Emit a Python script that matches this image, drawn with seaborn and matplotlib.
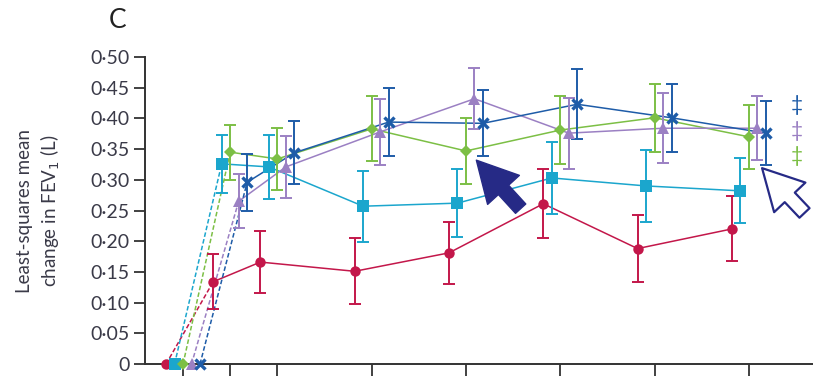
import numpy as np
import pandas as pd
import matplotlib
matplotlib.use("Agg")
import matplotlib.pyplot as plt
import seaborn as sns

# Time after dose (h) and least-squares mean change in FEV1 (L) with 95% CI half-widths
hours = [0, 0.5, 1, 2, 3, 4, 5, 6]

red_mean = [0.0, 0.134, 0.166, 0.151, 0.181, 0.261, 0.188, 0.220]
red_err = [0.0, 0.045, 0.051, 0.054, 0.051, 0.056, 0.055, 0.053]

cyan_mean = [0.0, 0.326, 0.321, 0.257, 0.262, 0.303, 0.290, 0.282]
cyan_err = [0.0, 0.047, 0.052, 0.058, 0.055, 0.058, 0.058, 0.053]

green_mean = [0.0, 0.345, 0.334, 0.383, 0.347, 0.381, 0.401, 0.370]
green_err = [0.0, 0.045, 0.050, 0.053, 0.054, 0.056, 0.055, 0.052]

purple_mean = [0.0, 0.265, 0.321, 0.378, 0.432, 0.376, 0.384, 0.384]
purple_err = [0.0, 0.044, 0.051, 0.054, 0.050, 0.058, 0.057, 0.052]

blue_mean = [0.0, 0.296, 0.344, 0.394, 0.392, 0.423, 0.401, 0.376]
blue_err = [0.0, 0.046, 0.051, 0.056, 0.054, 0.057, 0.055, 0.052]

y_ticks = [0, 0.05, 0.10, 0.15, 0.20, 0.25, 0.30, 0.35, 0.40, 0.45, 0.50]

series = [
    # name, means, errors, colour, marker, marker size, horizontal dodge (h)
    ("red", red_mean, red_err, "#c3174a", "o", 7.5, -0.18),
    ("cyan", cyan_mean, cyan_err, "#1ba6cd", "s", 8.5, -0.09),
    ("green", green_mean, green_err, "#7cbf45", "D", 6.0, 0.0),
    ("purple", purple_mean, purple_err, "#9b80c3", "^", 8.0, 0.09),
    ("blue", blue_mean, blue_err, "#1e5ca8", "x", 7.5, 0.18),
]

sns.set_style("white")
plt.rcParams["font.family"] = ["Lato", "DejaVu Sans"]
text_col = "#3a3a48"

fig = plt.figure(figsize=(8.13, 3.76), dpi=100)
ax = fig.add_axes([0.1784, 0.0319, 0.8216, 0.8165])

for name, mean, err, col, mk, ms, dx in series:
    df = pd.DataFrame({"x": np.array(hours) + dx, "y": mean, "e": err})
    # dashed rise from baseline to the first post-dose measurement
    sns.lineplot(data=df.iloc[:2], x="x", y="y", ax=ax, color=col, lw=1.1,
                 linestyle=(0, (3, 1.5)), zorder=2)
    sns.lineplot(data=df.iloc[1:], x="x", y="y", ax=ax, color=col, lw=1.1, zorder=2)
    ax.errorbar(df["x"][1:], df["y"][1:], yerr=df["e"][1:], fmt="none",
                ecolor=col, elinewidth=1.4, capsize=4.5, capthick=1.4, zorder=3)
    mew = 2.4 if mk == "x" else 0
    ax.plot(df["x"], df["y"], linestyle="none", marker=mk, ms=ms, color=col,
            mec=col, mew=mew, zorder=4, clip_on=False)

# significance markers beside the last time point
for col, yv in [("#1e5ca8", 0.422), ("#9b80c3", 0.379), ("#7cbf45", 0.339)]:
    ax.text(6.51, yv, "\u2021", color=col, fontsize=15, ha="center", va="center")

navy = "#262a86"
arrow_shape = "simple,head_length=1.45,head_width=1.55,tail_width=0.5"
ax.annotate("", xy=(3.11, 0.332), xytext=(3.58, 0.253),
            arrowprops=dict(arrowstyle=arrow_shape, fc=navy, ec=navy,
                            mutation_scale=20, shrinkA=0, shrinkB=0))
ax.annotate("", xy=(6.14, 0.319), xytext=(6.59, 0.246),
            arrowprops=dict(arrowstyle=arrow_shape, fc="white", ec=navy, lw=1.6,
                            mutation_scale=20, shrinkA=0, shrinkB=0))

ax.set_xlim(-0.403, 6.68)
ax.set_ylim(0, 0.5)
ax.set_xticks(hours)
ax.set_xticklabels([])
ax.set_yticks(y_ticks)
ax.set_yticklabels(["0" if v == 0 else f"{v:.2f}".replace(".", "\u00b7") for v in y_ticks],
                   fontsize=14, color=text_col)
ax.set_xlabel("")
ax.set_ylabel("Least-squares mean\nchange in FEV$_1$ (L)", fontsize=13.5, color=text_col,
              linespacing=1.3)
ax.yaxis.set_label_coords(-0.125, 0.5)

for side in ["top", "right"]:
    ax.spines[side].set_visible(False)
for side in ["left", "bottom"]:
    ax.spines[side].set_color("#333333")
    ax.spines[side].set_linewidth(1.4)
ax.tick_params(axis="y", direction="out", length=8, width=1.3, color="#333333", pad=3, left=True)
ax.tick_params(axis="x", direction="out", length=13, width=1.3, color="#333333", bottom=True)

fig.text(118 / 813, 1 - 20 / 376, "C", fontsize=19, color="#222222", ha="center", va="center")

fig.savefig("out.png", dpi=100)
